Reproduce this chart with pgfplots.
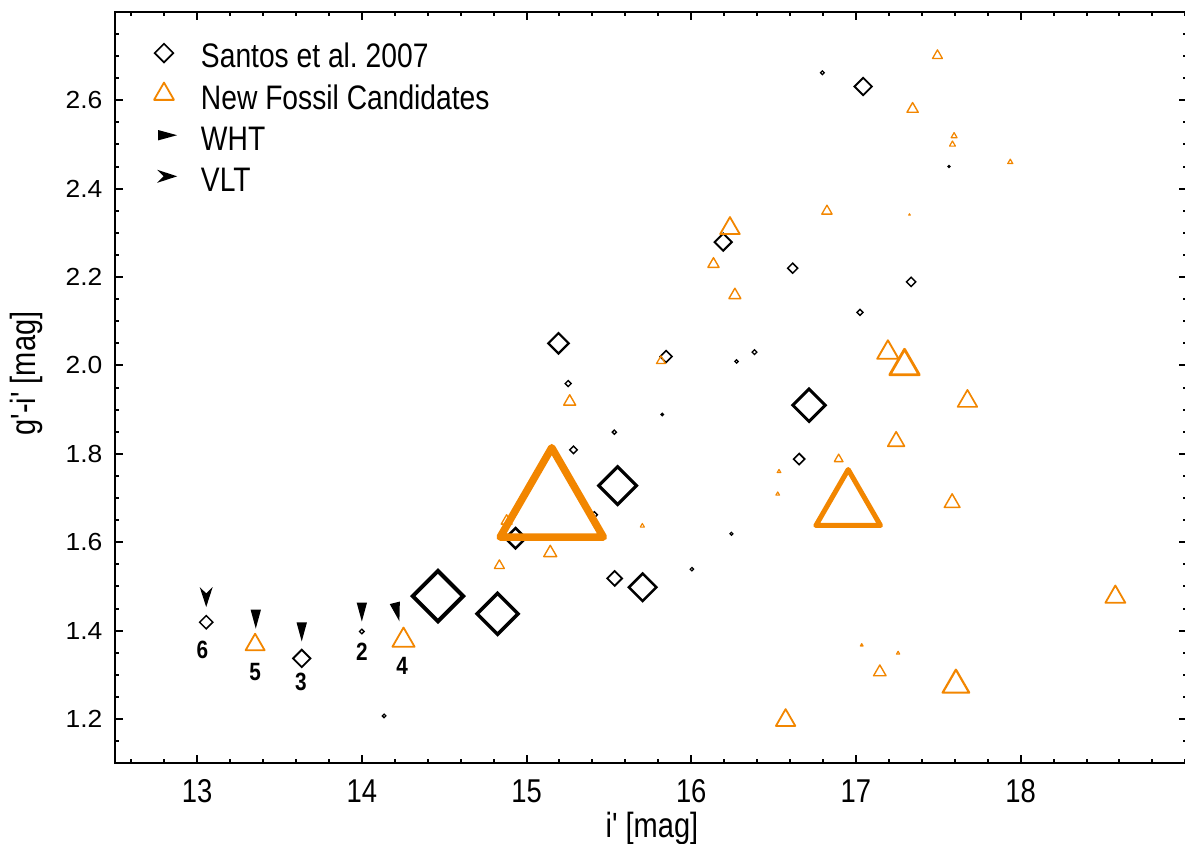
\documentclass[border=0pt]{standalone}
\usepackage{fontspec}
\setmainfont{Liberation Sans}
\newfontfamily\condfont{Liberation Sans}[FakeStretch=0.83]
\newfontfamily\ytickfont{Liberation Sans}[FakeStretch=1.07]
\usepackage{pgfplots}
\usepackage{pgfplotstable}
\pgfplotsset{compat=1.18}
\definecolor{fossil}{RGB}{242,134,0}

% open diamond: square standing on a corner, half-diagonal = mark size
\pgfdeclareplotmark{rdiamond}{%
  \pgfpathmoveto{\pgfqpoint{0pt}{\pgfplotmarksize}}%
  \pgfpathlineto{\pgfqpoint{\pgfplotmarksize}{0pt}}%
  \pgfpathlineto{\pgfqpoint{0pt}{-\pgfplotmarksize}}%
  \pgfpathlineto{\pgfqpoint{-\pgfplotmarksize}{0pt}}%
  \pgfpathclose\pgfusepathqstroke}
% open equilateral triangle, circumradius = mark size
\pgfdeclareplotmark{etri}{%
  \pgfpathmoveto{\pgfqpointpolar{90}{\pgfplotmarksize}}%
  \pgfpathlineto{\pgfqpointpolar{210}{\pgfplotmarksize}}%
  \pgfpathlineto{\pgfqpointpolar{330}{\pgfplotmarksize}}%
  \pgfpathclose\pgfusepathqstroke}
% WHT pointer: filled wedge pointing down
\pgfdeclareplotmark{wht}{%
  \pgfpathmoveto{\pgfqpoint{-2.6pt}{4.75pt}}%
  \pgfpathlineto{\pgfqpoint{2.6pt}{4.75pt}}%
  \pgfpathlineto{\pgfqpoint{0pt}{-4.75pt}}%
  \pgfpathclose\pgfusepathqfill}
% VLT pointer: notched arrow head pointing down
\pgfdeclareplotmark{vlt}{%
  \pgfpathmoveto{\pgfqpoint{0pt}{-5pt}}%
  \pgfpathlineto{\pgfqpoint{-3.25pt}{5pt}}%
  \pgfpathlineto{\pgfqpoint{0pt}{1.8pt}}%
  \pgfpathlineto{\pgfqpoint{3.25pt}{5pt}}%
  \pgfpathclose\pgfusepathqfill}

% Santos et al. 2007: i', g'-i', symbol half-size [pt], line width [pt]
\pgfplotstableread{
x      y     r     lw
13.055 1.419 3.3   0.75
13.635 1.337 4.35  0.9
14.000 1.398 1.15  0.65
14.135 1.207 0.9   0.65
14.462 1.478 12.6  2.0
14.824 1.438 10.25 1.75
14.933 1.609 5.1   1.25
15.194 2.050 5.1   1.1
15.253 1.959 1.5   0.7
15.285 1.809 1.9   0.7
15.412 1.662 1.5   0.7
15.533 1.849 1.05  0.65
15.553 1.728 9.4   1.6
15.535 1.518 3.7   0.9
15.705 1.498 6.85  1.25
15.847 2.020 2.95  0.8
15.824 1.889 0.6   0.6
16.004 1.539 0.85  0.6
16.194 2.279 4.3   1.0
16.275 2.009 0.85  0.6
16.384 2.030 1.2   0.65
16.244 1.619 0.75  0.6
16.616 2.220 2.5   0.75
16.655 1.788 2.8   0.8
16.715 1.910 8.1   1.5
16.796 2.662 0.95  0.6
17.044 2.631 4.35  0.9
17.024 2.120 1.5   0.7
17.335 2.189 2.3   0.75
17.565 2.450 0.5   0.6
}\santos

% new fossil candidates
\pgfplotstableread{
x      y     r     lw
13.352 1.368 5.5   0.9
14.253 1.378 6.4   0.9
14.835 1.547 2.9   0.65
14.879 1.648 3.15  0.65
15.144 1.576 3.75  0.7
15.153 1.679 29.8  3.75
15.262 1.918 3.45  0.7
15.703 1.637 1.2   0.55
15.816 2.010 2.55  0.65
16.135 2.229 3.25  0.7
16.235 2.310 5.65  0.9
16.265 2.159 3.45  0.7
16.533 1.760 1.05  0.55
16.525 1.709 1.05  0.55
16.573 1.197 5.6   0.9
17.035 1.367 0.8   0.55
17.256 1.349 0.95  0.55
17.145 1.306 3.6   0.7
17.607 1.277 7.65  1.1
18.575 1.476 5.75  0.9
16.953 1.680 18.65 2.5
16.895 1.788 2.5   0.65
17.194 2.029 6.15  0.95
17.295 1.998 8.5   1.4
17.244 1.828 4.85  0.8
17.677 1.919 5.65  0.85
17.584 1.689 4.5   0.75
17.495 2.701 2.85  0.65
17.344 2.580 3.25  0.7
17.596 2.519 1.7   0.6
17.586 2.500 1.7   0.6
17.937 2.460 1.45  0.6
16.824 2.349 3.0   0.65
17.325 2.341 0.5   0.5
}\fossils

\pgfplotsset{
  sized marks/.style={
    scatter, only marks, forget plot,
    visualization depends on={\thisrow{r}\as\mr},
    visualization depends on={\thisrow{lw}\as\mlw},
    scatter/@pre marker code/.code={\pgfscope
      \pgfmathsetlength{\pgfplotmarksize}{\mr pt}%
      \pgfmathsetlengthmacro\curlw{\mlw pt}\pgfsetlinewidth{\curlw}},
    scatter/@post marker code/.code={\endpgfscope},
  },
}
% reserves the width of a legend symbol cell without drawing anything
\tikzset{legend cell/.style={draw=none, fill=none}}

\begin{document}
\begin{tikzpicture}
\begin{axis}[
  at={(0,0)}, anchor=south west,
  scale only axis, width=536.1pt, height=375.7pt,
  xmin=12.5, xmax=19.01, ymin=1.1, ymax=2.8,
  xtick={13,...,18}, minor xtick={12.6,12.8,...,19.0},
  ytick={1.2,1.4,...,2.6}, minor ytick={1.1,1.15,...,2.8},
  major tick length=4pt, minor tick length=2.25pt,
  tick style={black, line width=1pt},
  axis line style={line width=1.25pt},
  /pgf/number format/assume math mode=true,
  xticklabel style={font=\condfont\fontsize{16.5pt}{16.5pt}\selectfont, inner sep=0pt, yshift=-8pt},
  yticklabel style={font=\ytickfont\fontsize{12.35pt}{12.35pt}\selectfont, inner sep=0pt, xshift=-6pt,
    /pgf/number format/.cd, fixed, fixed zerofill, precision=1},
  xlabel={i' [mag]},
  ylabel={g'-i' [mag]},
  xlabel style={at={(axis description cs:0.5010,-0.0649)}, anchor=north, inner sep=0pt,
    font=\condfont\fontsize{17.5pt}{17.5pt}\selectfont},
  ylabel style={at={(axis description cs:-0.0824,0.5186)}, anchor=center, inner sep=0pt,
    font=\condfont\fontsize{17.5pt}{17.5pt}\selectfont},
  legend style={at={(axis description cs:0,1)}, anchor=north west, xshift=14.6pt, yshift=-12.6pt,
    draw=none, fill=none, inner sep=0pt, outer sep=0pt, row sep=4.55pt, column sep=0pt,
    cells={anchor=west},
    nodes={inner sep=0pt, text height=14.9pt, text depth=0pt,
      font=\condfont\fontsize{17pt}{17pt}\selectfont}},
]
\addlegendimage{legend image code/.code={\path[legend cell] (0pt,-8pt) rectangle (28.5pt,8pt);
  \draw[black, line width=0.85pt, line join=miter, only marks, mark=rdiamond, mark size=4.65pt] plot coordinates {(10pt,0pt)};}}
\addlegendentry{Santos et al.\ 2007}
\addlegendimage{legend image code/.code={\path[legend cell] (0pt,-8pt) rectangle (28.5pt,8pt);
  \draw[fossil, line width=0.9pt, line join=round, only marks, mark=etri, mark size=5.75pt] plot coordinates {(10pt,0pt)};}}
\addlegendentry{New Fossil Candidates}
\addlegendimage{legend image code/.code={\path[legend cell] (0pt,-8pt) rectangle (28.5pt,8pt);
  \draw[black, only marks, mark=wht, mark options={xshift=1.8pt, rotate=90}] plot coordinates {(10pt,0pt)};}}
\addlegendentry{WHT}
\addlegendimage{legend image code/.code={\path[legend cell] (0pt,-8pt) rectangle (28.5pt,8pt);
  \draw[black, only marks, mark=vlt, mark options={xshift=1.6pt, rotate=90}] plot coordinates {(10pt,0pt)};}}
\addlegendentry{VLT}

% Santos et al. groups
\addplot[sized marks, mark=rdiamond, black, line join=miter] table[x=x, y=y] {\santos};
% new candidates
\addplot[sized marks, mark=etri, fossil, line join=round] table[x=x, y=y] {\fossils};

% spectroscopic follow-up pointers
\addplot[only marks, mark=wht, black, forget plot] coordinates {(13.356,1.426) (13.635,1.397) (14.000,1.442)};
\addplot[only marks, mark=wht, black, mark options={rotate=14}, forget plot] coordinates {(14.214,1.442)};
\addplot[only marks, mark=vlt, black, forget plot] coordinates {(13.055,1.476)};

\begin{scope}[every node/.style={inner sep=0pt, font=\condfont\bfseries\fontsize{12.5pt}{12.5pt}\selectfont}]
\node at (axis cs:13.032,1.356) {6};
\node at (axis cs:13.352,1.307) {5};
\node at (axis cs:13.630,1.284) {3};
\node at (axis cs:14.000,1.351) {2};
\node at (axis cs:14.244,1.320) {4};
\end{scope}
\end{axis}
\pgfresetboundingbox
\path[use as bounding box] (-57.4pt,-39.9pt) rectangle (535.1pt,381.6pt);
\end{tikzpicture}
\end{document}
